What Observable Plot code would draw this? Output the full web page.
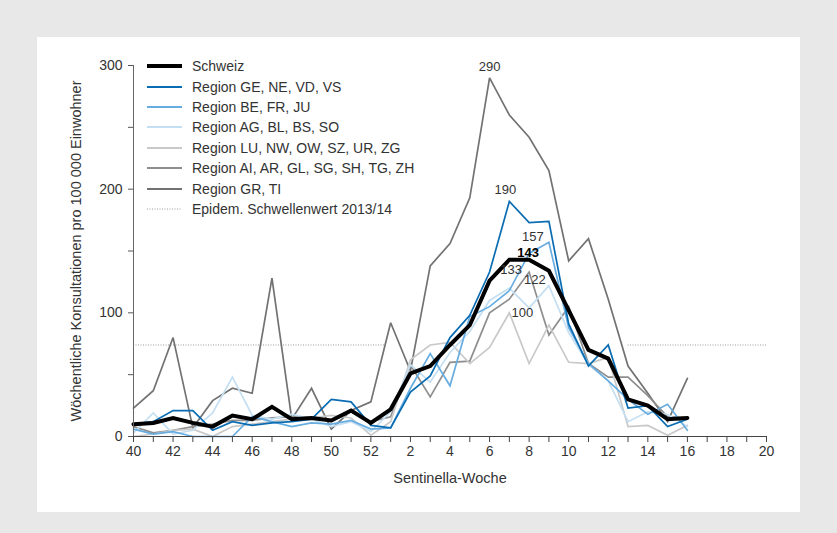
<!DOCTYPE html>
<html><head><meta charset="utf-8">
<script src="https://cdn.jsdelivr.net/npm/d3@7"></script>
<script src="https://cdn.jsdelivr.net/npm/@observablehq/plot@0.6"></script>
<style>
html,body{margin:0;padding:0;}
body{background:#e8e8e8;width:837px;height:533px;overflow:hidden;font-family:"Liberation Sans",Arial,sans-serif;}
#panel{position:absolute;left:37px;top:37px;width:763px;height:475px;background:#fff;}
#chart{position:absolute;left:0;top:0;}
#legend{position:absolute;left:110px;top:19px;font-size:14px;color:#333;}
.row{display:flex;align-items:center;height:20.4px;}
.sw{width:35px;margin-right:10px;}
</style></head><body>
<div id="panel"><div id="chart"></div><div id="legend"></div></div>
<script>
// data weeks (season 2013/14)
const weeks = [40,41,42,43,44,45,46,47,48,49,50,51,52,1,2,3,4,5,6,7,8,9,10,11,12,13,14,15,16];
// axis weeks
const axisWeeks = [40,41,42,43,44,45,46,47,48,49,50,51,52,1,2,3,4,5,6,7,8,9,10,11,12,13,14,15,16,17,18,19,20];

const seriesNames = ["Schweiz","Region GE, NE, VD, VS","Region BE, FR, JU","Region AG, BL, BS, SO","Region LU, NW, OW, SZ, UR, ZG","Region AI, AR, GL, SG, SH, TG, ZH","Region GR, TI"];
const seriesColors = ["#000000","#0a6cb2","#68ade0","#c5dff2","#c9c9c9","#8e8e8e","#727272"];

const schweiz  = [10,11,15,11,8,17,14,24,14,15,13,21,11,22,51,57,74,90,126,143,143,134,102,70,63,30,25,14,15];
const geNeVdVs = [10,12,21,21,5,12,9,11,12,14,30,28,9,7,36,49,80,98,133,190,173,174,91,57,74,23,25,8,14];
const beFrJu   = [6,2,4,0,0,0,16,12,8,11,10,13,6,7,39,67,41,97,105,118,148,157,88,59,45,30,18,26,5];
const agBlBsSo = [3,19,2,5,19,48,17,14,18,14,8,12,4,20,58,44,68,85,110,120,104,122,84,58,45,12,20,18,8];
const luZg     = [0,2,5,6,0,8,10,12,14,15,17,15,1,12,62,74,76,59,72,100,59,90,60,59,64,8,9,1,9];
const aiZh     = [8,3,5,8,10,13,13,15,16,15,12,20,12,16,58,32,60,61,100,111,133,82,105,59,48,48,33,16,15];
const grTi     = [23,37,80,7,29,39,35,128,14,39,6,21,28,92,53,138,156,193,290,260,242,215,142,160,111,57,35,12,47];
const seriesValues = [schweiz, geNeVdVs, beFrJu, agBlBsSo, luZg, aiZh, grTi];

const threshold = 74;
const thresholdLabel = "Epidem. Schwellenwert 2013/14";
// threshold line drawn from/to (in axis-week units)
const thresholdFrom = [40, 13];
const thresholdTo   = [52.35, 20];

// peak labels: series index, week
const peakSeries = [6, 1, 2, 0, 5, 3, 4];
const peakWeeks  = [6, 7, 9, 8, 8, 9, 7];

const yTicks = [0,50,100,150,200,250,300];
const yLabels = [0,100,200,300];
const yTitle = "Wöchentliche Konsultationen pro 100 000 Einwohner";
const xTitle = "Sentinella-Woche";

const xi = w => w >= 40 ? w - 40 : w + 12;

const rows = seriesNames.map((s, k) => weeks.map((w, i) => ({series: s, k, x: xi(w), v: seriesValues[k][i]})));

const labelOffsets = [[0,-11],[-4,-12],[-16,-6],[-1,-7],[-18,-2],[-14,-6],[13,0]];
const peakData = peakSeries.map((k, j) => {
  const i = weeks.indexOf(peakWeeks[j]);
  return {x: xi(peakWeeks[j]), v: seriesValues[k][i], k, dx: labelOffsets[j][0], dy: labelOffsets[j][1]};
});

const drawOrder = [6,5,4,3,2,1,0];
const font = '"Liberation Sans", Arial, sans-serif';

const marks = [
  Plot.ruleY(thresholdFrom.map((f, j) => ({x1: xi(f), x2: xi(thresholdTo[j]) + (thresholdTo[j] % 1)})), {
    y: () => threshold, x1: "x1", x2: "x2", stroke: "#9a9a9a", strokeWidth: 1, strokeDasharray: "1,1.5"
  }),
  ...drawOrder.map(k => Plot.line(rows[k], {
    x: "x", y: "v", stroke: seriesColors[k], strokeWidth: k === 0 ? 4 : 1.7,
    strokeLinejoin: "miter", strokeMiterlimit: 3
  })),
  ...peakData.map(d => Plot.text([d], {
    x: "x", y: "v", text: p => String(p.v), dx: d.dx, dy: d.dy,
    fill: d.k === 0 ? "#000" : "#333", fontWeight: d.k === 0 ? "bold" : "normal", fontSize: 13
  })),
  Plot.ruleX([0], {stroke: "#666", strokeWidth: 1}),
  Plot.ruleY([0], {stroke: "#444", strokeWidth: 1}),
  Plot.axisY({ticks: yTicks, tickFormat: d => yLabels.includes(d) ? String(d) : "", tickSize: 5, tickPadding: 6, label: null, stroke: "#555", fill: "#333", fontSize: 14}),
  Plot.axisX({ticks: d3.range(0, axisWeeks.length), tickFormat: i => i % 2 === 0 ? String(axisWeeks[i]) : "", tickSize: 6, tickPadding: 4, label: null, stroke: "#444", fill: "#333", fontSize: 14}),
  Plot.text([yTitle], {frameAnchor: "left", textAnchor: "middle", rotate: -90, dx: -57, fontSize: 14.5, fill: "#333"}),
  Plot.text([xTitle], {frameAnchor: "bottom", textAnchor: "middle", dy: 46, fontSize: 14.5, fill: "#333"})
];

const chart = Plot.plot({
  width: 763, height: 475,
  marginLeft: 96, marginRight: 34, marginTop: 28, marginBottom: 76,
  x: {domain: [0, axisWeeks.length - 1]},
  y: {domain: [0, 300]},
  style: {fontFamily: font, fontSize: "14px", background: "transparent", color: "#333"},
  marks
});
document.getElementById("chart").appendChild(chart);

// legend
const leg = d3.select("#legend");
seriesNames.forEach((s, k) => {
  const r = leg.append("div").attr("class", "row");
  const svg = r.append("svg").attr("class", "sw").attr("width", 35).attr("height", 8);
  svg.append("line").attr("x1", 0).attr("x2", 35).attr("y1", 4).attr("y2", 4)
    .attr("stroke", seriesColors[k]).attr("stroke-width", k === 0 ? 4 : 2);
  r.append("span").text(s);
});
const r = leg.append("div").attr("class", "row");
const svg = r.append("svg").attr("class", "sw").attr("width", 35).attr("height", 8);
svg.append("line").attr("x1", 0).attr("x2", 35).attr("y1", 4).attr("y2", 4)
  .attr("stroke", "#9a9a9a").attr("stroke-width", 1).attr("stroke-dasharray", "1,1.5");
r.append("span").text(thresholdLabel);
</script>
</body></html>
